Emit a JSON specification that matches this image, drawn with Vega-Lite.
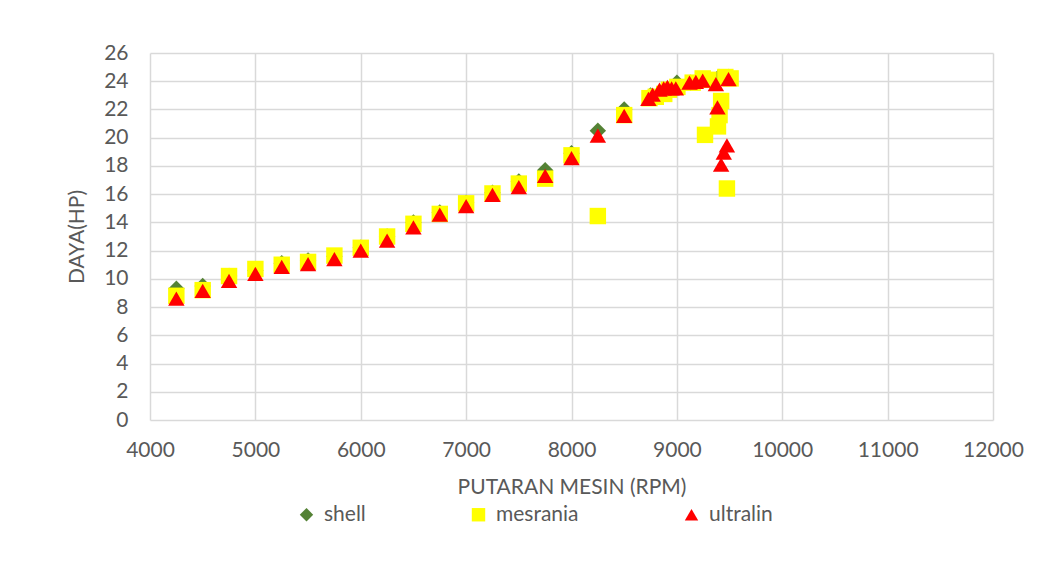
{
  "$schema": "https://vega.github.io/schema/vega-lite/v6.json",
  "width": 843,
  "height": 367,
  "autosize": {"type": "none"},
  "padding": {"left": 150, "top": 53, "right": 46, "bottom": 152},
  "background": "white",
  "config": {
    "view": {"stroke": null},
    "font": "Lato",
    "axis": {
      "labelFont": "Lato", "titleFont": "Lato",
      "labelFontSize": 21, "titleFontSize": 21,
      "labelColor": "#595959", "titleColor": "#595959",
      "titleFontWeight": "normal",
      "gridColor": "#d9d9d9", "gridWidth": 1.5,
      "domain": false, "ticks": false
    },
    "legend": {"labelFont": "Lato", "labelFontSize": 21, "labelColor": "#595959"}
  },
  "data": {"values": [
    {"series": "shell", "rpm": 4250, "hp": 9.3},
    {"series": "shell", "rpm": 4500, "hp": 9.5},
    {"series": "shell", "rpm": 4750, "hp": 10.2},
    {"series": "shell", "rpm": 5000, "hp": 10.6},
    {"series": "shell", "rpm": 5250, "hp": 11.1},
    {"series": "shell", "rpm": 5500, "hp": 11.3},
    {"series": "shell", "rpm": 5750, "hp": 11.6},
    {"series": "shell", "rpm": 6000, "hp": 12.2},
    {"series": "shell", "rpm": 6250, "hp": 13.0},
    {"series": "shell", "rpm": 6500, "hp": 14.0},
    {"series": "shell", "rpm": 6750, "hp": 14.7},
    {"series": "shell", "rpm": 7000, "hp": 15.4},
    {"series": "shell", "rpm": 7250, "hp": 16.1},
    {"series": "shell", "rpm": 7500, "hp": 16.9},
    {"series": "shell", "rpm": 7750, "hp": 17.7},
    {"series": "shell", "rpm": 8000, "hp": 18.9},
    {"series": "shell", "rpm": 8250, "hp": 20.5},
    {"series": "shell", "rpm": 8500, "hp": 22.0},
    {"series": "shell", "rpm": 8750, "hp": 23.0},
    {"series": "shell", "rpm": 9000, "hp": 23.9},
    {"series": "shell", "rpm": 9130, "hp": 23.9},
    {"series": "shell", "rpm": 9250, "hp": 24.1},
    {"series": "shell", "rpm": 9400, "hp": 24.3},
    {"series": "shell", "rpm": 9490, "hp": 24.3},
    {"series": "mesrania", "rpm": 4250, "hp": 8.8},
    {"series": "mesrania", "rpm": 4500, "hp": 9.2},
    {"series": "mesrania", "rpm": 4750, "hp": 10.2},
    {"series": "mesrania", "rpm": 5000, "hp": 10.7},
    {"series": "mesrania", "rpm": 5250, "hp": 11.0},
    {"series": "mesrania", "rpm": 5500, "hp": 11.2},
    {"series": "mesrania", "rpm": 5750, "hp": 11.65},
    {"series": "mesrania", "rpm": 6000, "hp": 12.2},
    {"series": "mesrania", "rpm": 6250, "hp": 13.0},
    {"series": "mesrania", "rpm": 6500, "hp": 13.9},
    {"series": "mesrania", "rpm": 6750, "hp": 14.6},
    {"series": "mesrania", "rpm": 7000, "hp": 15.35},
    {"series": "mesrania", "rpm": 7250, "hp": 16.05},
    {"series": "mesrania", "rpm": 7500, "hp": 16.75},
    {"series": "mesrania", "rpm": 7750, "hp": 17.1},
    {"series": "mesrania", "rpm": 8000, "hp": 18.75},
    {"series": "mesrania", "rpm": 8250, "hp": 14.45},
    {"series": "mesrania", "rpm": 8500, "hp": 21.6},
    {"series": "mesrania", "rpm": 8740, "hp": 22.8},
    {"series": "mesrania", "rpm": 8800, "hp": 22.9},
    {"series": "mesrania", "rpm": 8880, "hp": 23.1},
    {"series": "mesrania", "rpm": 8925, "hp": 23.4},
    {"series": "mesrania", "rpm": 9005, "hp": 23.6},
    {"series": "mesrania", "rpm": 9150, "hp": 23.9},
    {"series": "mesrania", "rpm": 9245, "hp": 24.2},
    {"series": "mesrania", "rpm": 9300, "hp": 24.1},
    {"series": "mesrania", "rpm": 9460, "hp": 24.3},
    {"series": "mesrania", "rpm": 9510, "hp": 24.2},
    {"series": "mesrania", "rpm": 9420, "hp": 22.6},
    {"series": "mesrania", "rpm": 9405, "hp": 21.6},
    {"series": "mesrania", "rpm": 9390, "hp": 20.8},
    {"series": "mesrania", "rpm": 9267, "hp": 20.2},
    {"series": "mesrania", "rpm": 9475, "hp": 16.4},
    {"series": "ultralin", "rpm": 4250, "hp": 8.6},
    {"series": "ultralin", "rpm": 4500, "hp": 9.15},
    {"series": "ultralin", "rpm": 4750, "hp": 9.86},
    {"series": "ultralin", "rpm": 5000, "hp": 10.35},
    {"series": "ultralin", "rpm": 5250, "hp": 10.85},
    {"series": "ultralin", "rpm": 5500, "hp": 11.05},
    {"series": "ultralin", "rpm": 5750, "hp": 11.4},
    {"series": "ultralin", "rpm": 6000, "hp": 12.0},
    {"series": "ultralin", "rpm": 6250, "hp": 12.7},
    {"series": "ultralin", "rpm": 6500, "hp": 13.65},
    {"series": "ultralin", "rpm": 6750, "hp": 14.55},
    {"series": "ultralin", "rpm": 7000, "hp": 15.15},
    {"series": "ultralin", "rpm": 7250, "hp": 15.95},
    {"series": "ultralin", "rpm": 7500, "hp": 16.5},
    {"series": "ultralin", "rpm": 7750, "hp": 17.3},
    {"series": "ultralin", "rpm": 8000, "hp": 18.55},
    {"series": "ultralin", "rpm": 8250, "hp": 20.15},
    {"series": "ultralin", "rpm": 8500, "hp": 21.55},
    {"series": "ultralin", "rpm": 8730, "hp": 22.75},
    {"series": "ultralin", "rpm": 8770, "hp": 23.05},
    {"series": "ultralin", "rpm": 8835, "hp": 23.4},
    {"series": "ultralin", "rpm": 8875, "hp": 23.5},
    {"series": "ultralin", "rpm": 8910, "hp": 23.6},
    {"series": "ultralin", "rpm": 8950, "hp": 23.5},
    {"series": "ultralin", "rpm": 8990, "hp": 23.5},
    {"series": "ultralin", "rpm": 9120, "hp": 23.9},
    {"series": "ultralin", "rpm": 9180, "hp": 23.95},
    {"series": "ultralin", "rpm": 9245, "hp": 24.05},
    {"series": "ultralin", "rpm": 9370, "hp": 23.8},
    {"series": "ultralin", "rpm": 9490, "hp": 24.15},
    {"series": "ultralin", "rpm": 9385, "hp": 22.15},
    {"series": "ultralin", "rpm": 9475, "hp": 19.45},
    {"series": "ultralin", "rpm": 9445, "hp": 18.95},
    {"series": "ultralin", "rpm": 9420, "hp": 18.1}
  ]},
  "mark": {"type": "point", "filled": true, "opacity": 1, "size": 270, "strokeWidth": 0},
  "encoding": {
    "x": {
      "field": "rpm", "type": "quantitative",
      "scale": {"domain": [4000, 12000], "nice": false, "zero": false},
      "axis": {"values": [4000, 5000, 6000, 7000, 8000, 9000, 10000, 11000, 12000], "format": "d", "title": "PUTARAN MESIN (RPM)", "labelPadding": 19, "titlePadding": 16, "labelFlush": false}
    },
    "y": {
      "field": "hp", "type": "quantitative",
      "scale": {"domain": [0, 26], "nice": false},
      "axis": {"values": [0, 2, 4, 6, 8, 10, 12, 14, 16, 18, 20, 22, 24, 26], "title": "DAYA(HP)", "labelPadding": 22, "titlePadding": 16}
    },
    "color": {
      "field": "series", "type": "nominal",
      "scale": {"domain": ["shell", "mesrania", "ultralin"], "range": ["#548235", "#FFFF00", "#FF0000"]},
      "legend": {"title": null, "orient": "none", "direction": "horizontal", "legendX": 146, "legendY": 451, "columnPadding": 102, "symbolSize": 180, "labelOffset": 7, "symbolStrokeWidth": 0, "padding": 0}
    },
    "shape": {
      "field": "series", "type": "nominal",
      "scale": {"domain": ["shell", "mesrania", "ultralin"], "range": ["diamond", "square", "triangle-up"]}
    }
  }
}
